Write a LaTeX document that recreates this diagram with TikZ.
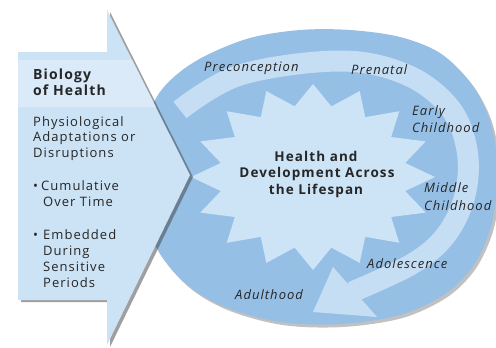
\documentclass[tikz,border=0pt]{standalone}
\usepackage{fontspec}
\setmainfont{Open Sans}[LetterSpace=8]
\usetikzlibrary{shadows}
\definecolor{ellfill}{HTML}{96BFE6}
\definecolor{bandfill}{HTML}{C6DEF4}
\definecolor{starfill}{HTML}{CDE3F6}
\definecolor{arrbody}{HTML}{CCE2F5}
\definecolor{arrhead}{HTML}{DAEAF8}
\definecolor{txt}{HTML}{262626}
\begin{document}
\begin{tikzpicture}[x=1pt,y=-1pt,
  lbl/.style={font=\fontsize{13}{16}\selectfont\itshape, text=txt, inner sep=0pt, anchor=base west},
  bodytxt/.style={font=\fontsize{13}{16}\selectfont, text=txt, inner sep=0pt, anchor=base west},
  headtxt/.style={font=\fontsize{14}{16}\selectfont\bfseries, text=txt, inner sep=0pt, anchor=base west},
  centertxt/.style={font=\fontsize{13.5}{16}\selectfont\bfseries, text=txt, inner sep=0pt, anchor=base},
  shadowed/.style={drop shadow={shadow xshift=2.5pt, shadow yshift=-3pt, opacity=0.35, fill=black!70}},
  arrshadow/.style={drop shadow={shadow xshift=3pt, shadow yshift=-2pt, opacity=0.5, fill=black!75}}
]
\useasboundingbox (0,0) rectangle (496,348);
% outer ellipse-like shape
\fill[ellfill, shadowed] plot[smooth cycle, tension=0.55] coordinates {
  (140,190) (142,140) (155,100) (175,76) (205,56) (250,38) (300,30) (350,30)
  (400,37) (440,53) (470,82) (488,115) (496,150) (497,190) (490,230) (473,266)
  (445,294) (400,315) (340,324) (280,322) (225,307) (185,283) (155,245)};
% curved life-course band
\draw[bandfill, line width=21pt] plot[smooth, tension=0.6] coordinates {
  (180,110) (240,75) (340,61) (407,75) (450,108) (467,150) (465,195)
  (446,235) (412,264) (352,292)};
\fill[bandfill] (333,267) -- (313,312) -- (377,317) -- cycle;
% star
\fill[starfill] (313,84) \foreach \k in {0,...,15}{
   -- ({313+94*cos(101.25+22.5*\k)},{177-72*sin(101.25+22.5*\k)})
   -- ({313+122*cos(112.5+22.5*\k)},{177-93*sin(112.5+22.5*\k)}) } -- cycle;
\node[centertxt] (c1) at (316,161) {Health and};
\node[centertxt] (c2) at (317,177) {Development Across};
\node[centertxt] (c3) at (316,194) {the Lifespan};
% stage labels
\node[lbl] (pre) at (204,71) {Preconception};
\node[lbl] (pren) at (351,74) {Prenatal};
\node[lbl] (ec1) at (412,115) {Early};
\node[lbl] (ec2) at (412,132) {Childhood};
\node[lbl] (mc1) at (424,192.5) {Middle};
\node[lbl] (mc2) at (424,210) {Childhood};
\node[lbl] (ado) at (367,268) {Adolescence};
\node[lbl] (adu) at (235,299) {Adulthood};
% big left arrow
\fill[arrbody, arrshadow] (18,52) -- (107,52) -- (107,10) -- (190,175) -- (107,345)
   -- (107,300) -- (18,300) -- cycle;
\begin{scope}
\clip (18,52) -- (107,52) -- (107,10) -- (190,175) -- (107,345)
   -- (107,300) -- (18,300) -- cycle;
\fill[arrhead] (0,60) rectangle (200,107);
\end{scope}
\node[headtxt] (h1) at (33,79) {Biology};
\node[headtxt] (h2) at (33,95) {of Health};
\node[bodytxt] (b1) at (33,126) {Physiological};
\node[bodytxt] (b2) at (33,141.5) {Adaptations or};
\node[bodytxt] (b3) at (33,157) {Disruptions};
\node[bodytxt] (u1) at (33,190) {\textbullet};
\node[bodytxt] (b4) at (41,190) {Cumulative};
\node[bodytxt] (b5) at (43,206) {Over Time};
\node[bodytxt] (u2) at (33,239) {\textbullet};
\node[bodytxt] (b6) at (43,239) {Embedded};
\node[bodytxt] (b7) at (43,255) {During};
\node[bodytxt] (b8) at (43,271) {Sensitive};
\node[bodytxt] (b9) at (43,287) {Periods};
\end{tikzpicture}
\end{document}
